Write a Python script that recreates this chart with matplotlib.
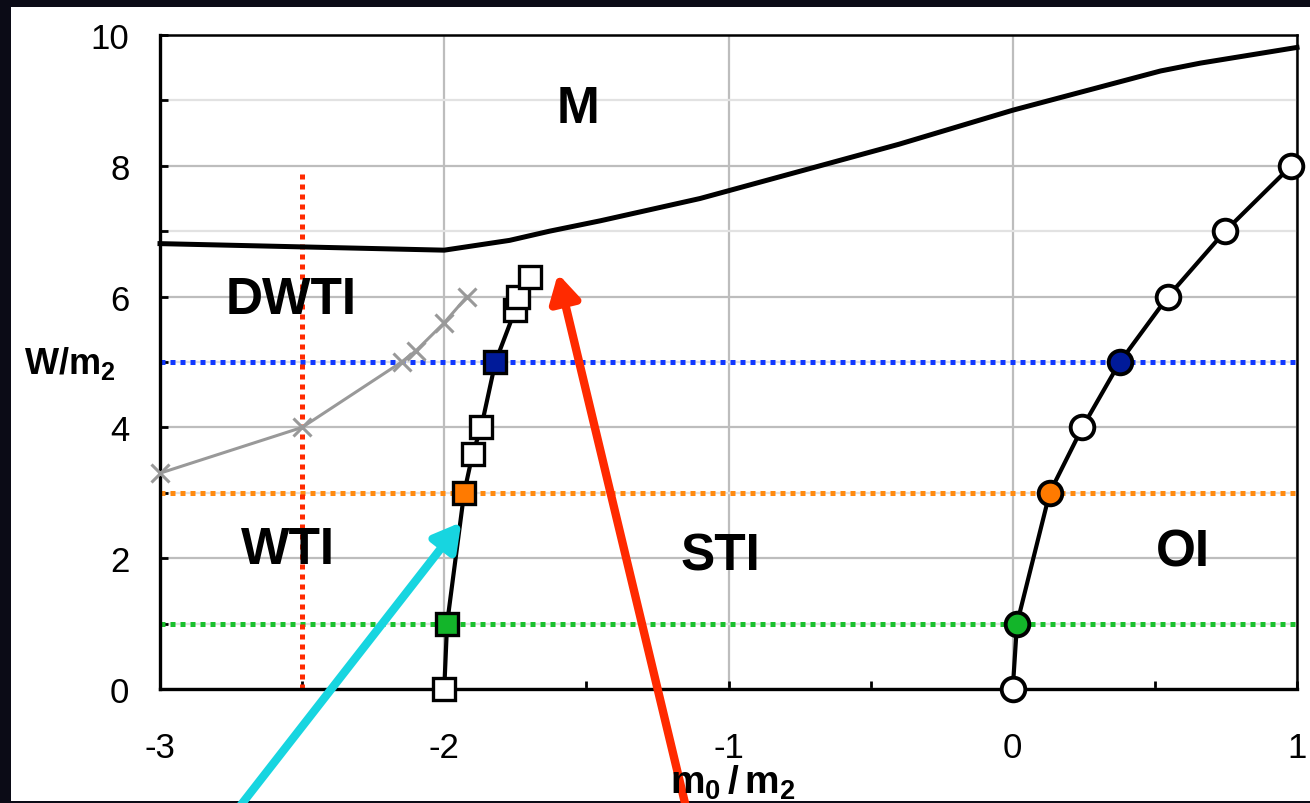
import matplotlib
matplotlib.use("Agg")
import matplotlib.pyplot as plt
from matplotlib.patches import Rectangle
from matplotlib.ticker import MultipleLocator

plt.rcParams['font.family'] = ['Liberation Sans', 'DejaVu Sans']
plt.rcParams['mathtext.fontset'] = 'custom'
plt.rcParams['mathtext.rm'] = 'Liberation Sans'
plt.rcParams['mathtext.bf'] = 'Liberation Sans:bold'
plt.rcParams['axes.unicode_minus'] = False

# phase boundary between M and the insulating phases
m_x = [-3, -2.5, -2, -1.77, -1.63, -1.45, -1.1, -0.4, 0, 0.52, 0.66, 1]
m_y = [6.81, 6.76, 6.71, 6.86, 7.0, 7.16, 7.5, 8.33, 8.85, 9.45, 9.57, 9.81]

# DWTI / WTI crossover (grey crosses)
dw_x = [-3, -2.5, -2.15, -2.1, -2.0, -1.92]
dw_y = [3.3, 4.0, 5.0, 5.17, 5.6, 6.0]

# WTI / STI transition (squares)
sq_x = [-2.0, -1.99, -1.93, -1.90, -1.87, -1.82, -1.75, -1.74, -1.70]
sq_y = [0, 1, 3, 3.6, 4, 5, 5.8, 6.0, 6.3]
sq_c = ['white', '#13b52a', '#ff7a00', 'white', 'white', '#001a99', 'white', 'white', 'white']

# STI / OI transition (circles)
oi_x = [0, 0.015, 0.13, 0.245, 0.377, 0.546, 0.747, 0.98]
oi_y = [0, 1, 3, 4, 5, 6, 7, 8]
oi_c = ['white', '#13b52a', '#ff7a00', 'white', '#001a99', 'white', 'white', 'white']

# cuts through the phase diagram
cut_w = [5, 3, 1]
cut_colors = ['#1038ff', '#ff8a10', '#19c02c']
cut_m0 = -2.5
cut_m0_top = 7.9

regions = ['M', 'DWTI', 'WTI', 'STI', 'OI']
region_x = [-1.53, -2.54, -2.55, -1.03, 0.6]
region_y = [8.87, 5.96, 2.14, 2.03, 2.09]

fig = plt.figure(figsize=(13.1, 8.04), dpi=100)
fig.patch.set_facecolor('#0b0b16')
fig.add_artist(Rectangle((11/1310, 2/804), 1 - 11/1310, 794/804,
                         transform=fig.transFigure, facecolor='white',
                         edgecolor='none', zorder=-10))

ax = fig.add_axes([160/1310, 1 - 690/804, 1137/1310, 654/804])
ax.set_xlim(-3, 1)
ax.set_ylim(0, 10)

ax.xaxis.set_major_locator(MultipleLocator(1))
ax.xaxis.set_minor_locator(MultipleLocator(0.5))
ax.yaxis.set_major_locator(MultipleLocator(2))
ax.yaxis.set_minor_locator(MultipleLocator(1))
ax.grid(True, which='major', color='#bdbdbd', lw=1.6, zorder=0)
ax.grid(True, which='minor', axis='y', color='#e2e2e2', lw=1.6, zorder=0)
ax.set_axisbelow(True)

ax.tick_params(which='both', direction='in', length=6, width=2, colors='black',
               labelsize=25)
ax.tick_params(axis='x', which='major', pad=30)
ax.tick_params(axis='y', which='major', pad=22)
for side in ['left', 'bottom']:
    ax.spines[side].set_linewidth(2.4)
for side in ['top', 'right']:
    ax.spines[side].set_linewidth(1.8)

# dotted cuts
for w, c in zip(cut_w, cut_colors):
    ax.axhline(w, color=c, lw=3.6, ls=(0, (1, 1)), zorder=2)
ax.plot([cut_m0, cut_m0], [0, cut_m0_top], color='#ff2a00', lw=3.6,
        ls=(0, (1, 1)), zorder=2)

ax.plot(m_x, m_y, color='black', lw=3.6, zorder=3, clip_on=False)
ax.plot(dw_x, dw_y, color='#999999', lw=2.2, marker='x', ms=13, mew=2.2,
        zorder=3, clip_on=False)

ax.plot(sq_x, sq_y, color='black', lw=3, zorder=3)
for x, y, c in zip(sq_x, sq_y, sq_c):
    ax.plot(x, y, marker='s', ms=16, mfc=c, mec='black', mew=2.4,
            zorder=4, clip_on=False)

ax.plot(oi_x, oi_y, color='black', lw=3, zorder=3)
for x, y, c in zip(oi_x, oi_y, oi_c):
    ax.plot(x, y, marker='o', ms=17, mfc=c, mec='black', mew=2.8,
            zorder=4, clip_on=False)

for t, x, y in zip(regions, region_x, region_y):
    ax.text(x, y, t, fontsize=37, fontweight='bold', ha='center', va='center',
            zorder=5)

# arrows pointing at the transition lines
ax.annotate('', xy=(-1.94, 2.55), xytext=(-2.72, -1.80), annotation_clip=False,
            arrowprops=dict(arrowstyle='-|>,head_length=1.6,head_width=0.9',
                            color='#17d5e0', lw=6, shrinkA=0, shrinkB=0),
            zorder=6)
ax.annotate('', xy=(-1.60, 6.35), xytext=(-1.15, -1.80), annotation_clip=False,
            arrowprops=dict(arrowstyle='-|>,head_length=1.6,head_width=0.9',
                            color='#ff2a00', lw=6, shrinkA=0, shrinkB=0),
            zorder=6)

# x label sits on top of the arrows
fig.text(733/1310, 1 - 764/804, r'$\mathbf{m_0\,/\,m_2}$', fontsize=28,
         ha='center', va='top', zorder=10)
ax.set_ylabel(r'$\mathbf{W/m_2}$', fontsize=26, rotation=0, ha='center',
              va='center')
ax.yaxis.set_label_coords(-0.079, 0.5)

fig.savefig('out.png', dpi=100, facecolor=fig.get_facecolor())
